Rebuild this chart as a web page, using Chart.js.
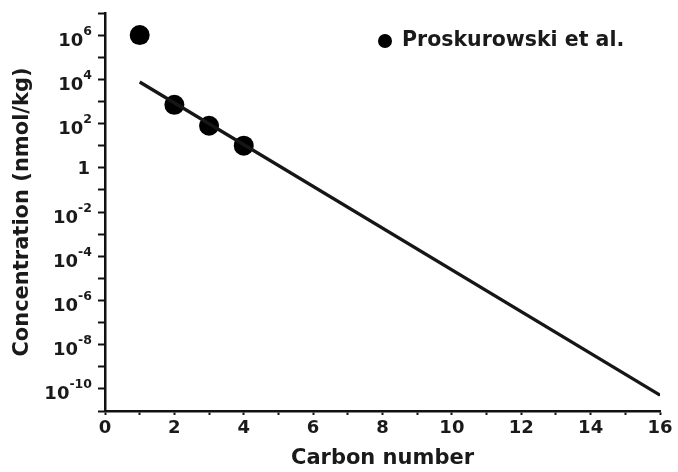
<!DOCTYPE html>
<html>
<head>
<meta charset="utf-8">
<title>Concentration vs carbon number</title>
<script src="https://cdn.jsdelivr.net/npm/chart.js@4.4.1/dist/chart.umd.min.js"></script>
<style>
    html, body { margin: 0; padding: 0; background: #fff; }
</style>
</head>
<body>
<canvas id="carbonChart" width="678" height="472"></canvas>
<script>
// measured concentrations
const carbonNumbers = [1, 2, 3, 4];
const concentrations = [1e6, 700, 80, 10];

// fitted trend line (two end points, straight on the log axis)
const fitCarbon = [1, 16];
const fitConcentration = [7600, 5.2e-11];

// axes
const xTicks = [0, 1, 2, 3, 4, 5, 6, 7, 8, 9, 10, 11, 12, 13, 14, 15, 16];
const yDecades = [7, 6, 5, 4, 3, 2, 1, 0, -1, -2, -3, -4, -5, -6, -7, -8, -9, -10, -11];
const yLabelExponents = [6, 4, 2, 0, -2, -4, -6, -8, -10];

const seriesLabel = "Proskurowski et al.";
const fontFamily = '"DejaVu Sans", "Liberation Sans", Arial, sans-serif';
const textColor = '#1a1a1a';
const axisColor = '#111';

// y tick labels written as 10 with a raised exponent
const powerLabels = {
    id: 'powerLabels',
    afterDraw(chart) {
        const ctx = chart.ctx;
        const scale = chart.scales.y;
        const right = scale.right - 13;
        ctx.save();
        ctx.fillStyle = textColor;
        ctx.textBaseline = 'alphabetic';
        yLabelExponents.forEach(function (e) {
            const py = scale.getPixelForValue(Math.pow(10, e));
            if (e === 0) {
                ctx.font = 'bold 18px ' + fontFamily;
                ctx.textAlign = 'right';
                ctx.fillText('1', right - 2, py + 6.5);
                return;
            }
            const sup = String(e);
            ctx.font = 'bold 12.5px ' + fontFamily;
            const supWidth = ctx.measureText(sup).width;
            ctx.textAlign = 'right';
            ctx.fillText(sup, right, py - 0.5);
            ctx.font = 'bold 18px ' + fontFamily;
            ctx.fillText('10', right - supWidth, py + 10.5);
        });
        ctx.restore();
    }
};

// single legend entry for the measured points
const legendEntry = {
    id: 'legendEntry',
    afterDraw(chart) {
        const ds = chart.data.datasets[0];
        const ctx = chart.ctx;
        ctx.save();
        ctx.fillStyle = ds.backgroundColor;
        ctx.beginPath();
        ctx.arc(385, 41, 7, 0, Math.PI * 2);
        ctx.fill();
        ctx.font = 'bold 20.5px ' + fontFamily;
        ctx.fillStyle = textColor;
        ctx.textAlign = 'left';
        ctx.textBaseline = 'middle';
        ctx.fillText(ds.label, 402, 41);
        ctx.restore();
    }
};

const ctx = document.getElementById('carbonChart').getContext('2d');
const carbonChart = new Chart(ctx, {
    type: 'scatter',
    data: {
        datasets: [{
            label: seriesLabel,
            data: carbonNumbers.map((c, i) => ({ x: c, y: concentrations[i] })),
            backgroundColor: '#000',
            borderColor: '#000',
            pointBorderWidth: 0,
            pointRadius: 10,
            pointHoverRadius: 10,
            order: 2
        }, {
            label: 'fit',
            type: 'line',
            data: fitCarbon.map((c, i) => ({ x: c, y: fitConcentration[i] })),
            borderColor: '#161616',
            borderWidth: 3.3,
            pointRadius: 0,
            fill: false,
            tension: 0,
            order: 1
        }]
    },
    options: {
        responsive: false,
        animation: false,
        layout: { padding: { top: 13, right: 18, left: 0, bottom: 0 } },
        plugins: {
            legend: { display: false },
            tooltip: { enabled: false }
        },
        scales: {
            x: {
                type: 'linear',
                min: 0,
                max: 16,
                afterBuildTicks: scale => { scale.ticks = xTicks.map(v => ({ value: v })); },
                afterFit: scale => { scale.height = 61; },
                ticks: {
                    autoSkip: false,
                    maxRotation: 0,
                    padding: 3,
                    color: textColor,
                    font: { family: fontFamily, size: 18, weight: 'bold' },
                    callback: v => (v % 2 === 0 ? v : '')
                },
                grid: { drawOnChartArea: false, tickLength: 4, tickWidth: 2, tickColor: axisColor },
                border: { color: axisColor, width: 2.5 },
                title: {
                    display: true,
                    text: 'Carbon number',
                    color: textColor,
                    font: { family: fontFamily, size: 21, weight: 'bold' },
                    padding: { top: 0, bottom: 1 }
                }
            },
            y: {
                type: 'logarithmic',
                min: 1e-11,
                max: 1e7,
                afterBuildTicks: scale => { scale.ticks = yDecades.map(e => ({ value: Math.pow(10, e) })); },
                afterFit: scale => { scale.width = 105; },
                ticks: { callback: () => '' },
                grid: { drawOnChartArea: false, tickLength: 7, tickWidth: 2, tickColor: axisColor },
                border: { color: axisColor, width: 2.5 },
                title: {
                    display: true,
                    text: 'Concentration (nmol/kg)',
                    color: textColor,
                    font: { family: fontFamily, size: 21, weight: 'bold' },
                    padding: { top: 10, bottom: 0 }
                }
            }
        }
    },
    plugins: [powerLabels, legendEntry]
});
</script>
</body>
</html>
